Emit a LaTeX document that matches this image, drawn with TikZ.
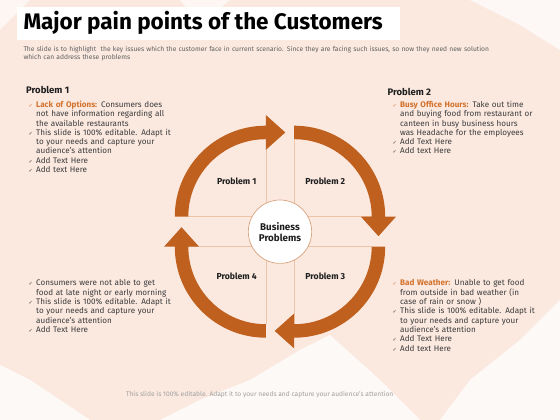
\documentclass[tikz,border=0pt]{standalone}
\usepackage{fontspec}
\setmainfont{Fira Sans}
\newfontfamily\symf{DejaVu Sans}
\setlength\parindent{0pt}
\definecolor{bgc}{HTML}{FBE9E0}
\definecolor{arrowc}{HTML}{C0601E}
\definecolor{gridc}{HTML}{EDC4A8}
\definecolor{circc}{HTML}{D9A27E}
\definecolor{hlc}{HTML}{D2722C}
\definecolor{txtc}{HTML}{3A3A3A}
\definecolor{headc}{HTML}{1E1E1E}
\definecolor{subc}{HTML}{606060}
\definecolor{footc}{HTML}{A0A0A0}
\newcommand\chk[1][txtc]{{\color{#1}\symf\fontsize{5}{5}\selectfont ✓}}
\newcommand\bitem[2][txtc]{\par\leftskip=7.5pt\noindent\llap{\makebox[7.5pt][l]{\chk[#1]}}#2\par}
\newcommand\hl[1]{{\color{hlc}\bfseries #1}}
\newcommand\qarrow[2]{%
  \begin{scope}[shift={#1}, rotate=#2]
    \fill[arrowc] (180:91) arc[start angle=180, end angle=90, radius=91]
      -- (0,101.75) -- (19.5,84.25) -- (0,66.75) -- (0,77.5)
      arc[start angle=90, end angle=180, radius=77.5] -- cycle;
  \end{scope}}
\begin{document}
\begin{tikzpicture}[x=1pt,y=1pt,
  listbox/.style={anchor=north west, inner sep=0pt, text width=170pt, align=left,
    font=\fontsize{8.1}{9.3}\selectfont, text=txtc},
  headbox/.style={anchor=base west, inner sep=0pt, font=\fontsize{9.5}{10}\selectfont\bfseries, text=headc},
  qlabel/.style={inner sep=0pt, font=\fontsize{8.7}{9}\selectfont\bfseries, text=headc},
  gridline/.style={draw=gridc, line width=0.6pt}]
\useasboundingbox (0,0) rectangle (560,420);
% background
\fill[bgc] (0,0) rectangle (560,420);
\fill[white, opacity=0.75] (0,0) -- (90,0) -- (30,40) -- (0,55) -- cycle;
\fill[white, opacity=0.75] (160,0) -- (420,0) -- (380,40) -- (330,85) -- (300,70) -- (250,40) -- (200,20) -- cycle;
\fill[white, opacity=0.75] (440,0) -- (560,0) -- (560,120) -- (520,80) -- (470,40) -- cycle;
\fill[white, opacity=0.7] (470,420) -- (560,420) -- (560,370) -- (520,395) -- cycle;
\fill[white, opacity=0.6] (0,420) -- (30,420) -- (0,390) -- cycle;
\fill[white, opacity=0.6] (180,420) -- (230,420) -- (200,395) -- cycle;
% title
\fill[white] (17,380) rectangle (400,413);
\node[anchor=base west, inner sep=0pt, font=\fontsize{22.5}{24}\selectfont\bfseries, text=black] (title) at (23.3,390.5) {Major pain points of the Customers};
\node[anchor=base west, inner sep=0pt, text width=530pt, align=left, font=\fontsize{6.7}{8}\selectfont, text=subc] (sub) at (23.3,368)
  {The slide is to highlight\ \ the key issues which the customer face in current scenario. Since they are facing such issues, so now they need new solution\\ which can address these problems};
% grid lines
\draw[gridline] (188.3,203.3) -- (371.7,203.3);
\draw[gridline] (188.3,173.3) -- (371.7,173.3);
\draw[gridline] (265.8,95.8) -- (265.8,280.8);
\draw[gridline] (294.2,95.8) -- (294.2,280.8);
% arrows
\qarrow{(265.8,203.3)}{0}
\qarrow{(294.2,203.3)}{-90}
\qarrow{(294.2,173.3)}{180}
\qarrow{(265.8,173.3)}{90}
% centre
\node[circle, draw=circc, line width=0.7pt, fill=white, minimum size=63.4pt, inner sep=0pt,
  align=center, font=\fontsize{9.8}{11}\selectfont\bfseries, text=headc] (centre) at (280,188.3) {Business\\Problems};
\node[qlabel] (q1) at (236.7,238.3) {Problem 1};
\node[qlabel] (q2) at (325.3,238.3) {Problem 2};
\node[qlabel] (q3) at (325.3,144) {Problem 3};
\node[qlabel] (q4) at (236.7,144) {Problem 4};
% text blocks
\node[headbox] (h1) at (26,326) {Problem 1};
\node[listbox] (l1) at (28.5,322) {%
  \bitem[hlc]{\hl{Lack of Options:} Consumers does\\not have information regarding all\\the available restaurants}
  \bitem{This slide is 100\% editable. Adapt it\\to your needs and capture your\\audience's attention}
  \bitem{Add Text Here}
  \bitem{Add text Here}};
\node[headbox] (h2) at (387.3,324.5) {Problem 2};
\node[listbox] (l2) at (392.5,322) {%
  \bitem[hlc]{\hl{Busy Office Hours:} Take out time\\and buying food from restaurant or\\canteen in busy business hours\\was Headache for the employees}
  \bitem{Add Text Here}
  \bitem{Add text Here}};
\node[listbox] (l4) at (28.5,143.5) {%
  \bitem{Consumers were not able to get\\food at late night or early morning}
  \bitem{This slide is 100\% editable. Adapt it\\to your needs and capture your\\audience's attention}
  \bitem{Add Text Here}};
\node[listbox] (l3) at (392.5,143.5) {%
  \bitem[hlc]{\hl{Bad Weather:} Unable to get food\\from outside in bad weather (in\\case of rain or snow )}
  \bitem{This slide is 100\% editable. Adapt it\\to your needs and capture your\\audience's attention}
  \bitem{Add Text Here}
  \bitem{Add text Here}};
% footer
\node[inner sep=0pt, font=\fontsize{6.65}{7}\selectfont, text=footc] (foot) at (259.7,25)
  {This slide is 100\% editable. Adapt it to your needs and capture your audience's attention};
\end{tikzpicture}
\end{document}
